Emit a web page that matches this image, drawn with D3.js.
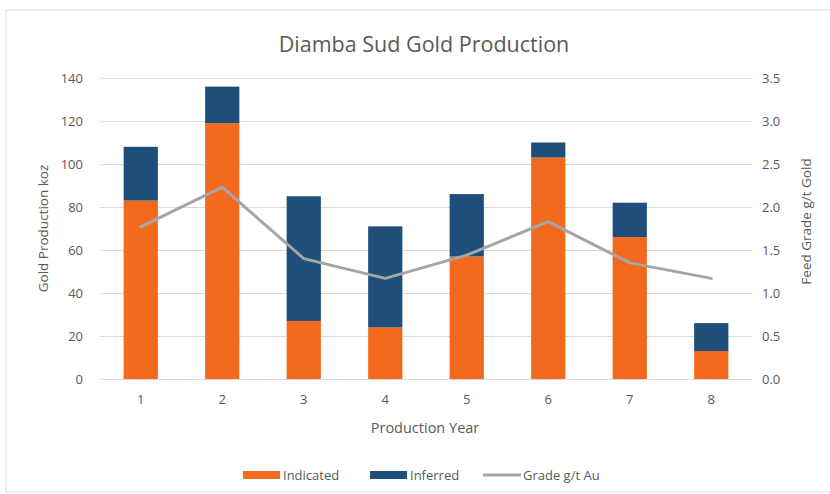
<!DOCTYPE html>
<html>
<head>
<meta charset="utf-8">
<script src="https://cdn.jsdelivr.net/npm/d3@7"></script>
<style>
  html, body { margin: 0; padding: 0; background: #fff; }
  svg { display: block; font-family: "Open Sans", "Noto Sans", sans-serif; }
</style>
</head>
<body>
<svg id="chart" width="830" height="494"></svg>
<script>
const years = ["1", "2", "3", "4", "5", "6", "7", "8"];
const indicated = [83, 119, 27, 24, 57, 103, 66, 13];
const inferred = [25, 17, 58, 47, 29, 7, 16, 13];
const grade = [1.77, 2.23, 1.40, 1.17, 1.44, 1.83, 1.35, 1.17];
const leftTicks = [0, 20, 40, 60, 80, 100, 120, 140];
const rightTicks = [0, 0.5, 1.0, 1.5, 2.0, 2.5, 3.0, 3.5];
const seriesNames = ["Indicated", "Inferred", "Grade g/t Au"];
const colors = { Indicated: "#F36A1F", Inferred: "#1F4E7A", grade: "#A5A5A5" };

const svg = d3.select("#chart");
const plot = { left: 100, right: 752, top: 78, bottom: 379 };

// frame
svg.append("rect").attr("x", 6).attr("y", 10).attr("width", 840).attr("height", 482)
  .attr("fill", "#fff").attr("stroke", "#d9d9d9").attr("stroke-width", 1);

const x = d3.scaleBand().domain(years).range([plot.left, plot.right]).paddingInner(0.58).paddingOuter(0.29);
const yL = d3.scaleLinear().domain([0, 140]).range([plot.bottom, plot.top]);
const yR = d3.scaleLinear().domain([0, 3.5]).range([plot.bottom, plot.top]);

// gridlines
svg.append("g").selectAll("line").data(leftTicks.filter(d => d > 0)).join("line")
  .attr("x1", plot.left).attr("x2", plot.right)
  .attr("y1", d => yL(d) + 0.5).attr("y2", d => yL(d) + 0.5)
  .attr("stroke", "#d9d9d9").attr("stroke-width", 1);

// stacked bars
const data = years.map((y, i) => ({ year: y, Indicated: indicated[i], Inferred: inferred[i] }));
const stack = d3.stack().keys(["Indicated", "Inferred"])(data);
svg.append("g").selectAll("g").data(stack).join("g")
  .attr("fill", d => colors[d.key])
  .selectAll("rect").data(d => d).join("rect")
  .attr("x", d => x(d.data.year))
  .attr("width", x.bandwidth())
  .attr("y", d => yL(d[1]))
  .attr("height", d => yL(d[0]) - yL(d[1]));

// baseline
svg.append("line").attr("x1", plot.left).attr("x2", plot.right)
  .attr("y1", plot.bottom + 0.5).attr("y2", plot.bottom + 0.5)
  .attr("stroke", "#d9d9d9").attr("stroke-width", 1);

// grade line
const line = d3.line().x((d, i) => x(years[i]) + x.bandwidth() / 2).y(d => yR(d));
svg.append("path").datum(grade).attr("d", line)
  .attr("fill", "none").attr("stroke", colors.grade).attr("stroke-width", 3)
  .attr("stroke-linejoin", "round").attr("stroke-linecap", "round");

const textColor = "#595959";
// left axis
const axL = d3.axisLeft(yL).tickValues(leftTicks).tickSize(0).tickPadding(17);
const gL = svg.append("g").attr("transform", `translate(${plot.left},0)`).call(axL);
gL.select(".domain").remove();
gL.selectAll("text").attr("fill", textColor).attr("font-size", 13).style("font-family", "Open Sans");

// right axis
const axR = d3.axisRight(yR).tickValues(rightTicks).tickFormat(d3.format(".1f")).tickSize(0).tickPadding(10);
const gR = svg.append("g").attr("transform", `translate(${plot.right},0)`).call(axR);
gR.select(".domain").remove();
gR.selectAll("text").attr("fill", textColor).attr("font-size", 13).style("font-family", "Open Sans");

// bottom axis
const axB = d3.axisBottom(x).tickSize(0).tickPadding(16);
const gB = svg.append("g").attr("transform", `translate(0,${plot.bottom})`).call(axB);
gB.select(".domain").remove();
gB.selectAll("text").attr("fill", textColor).attr("font-size", 13).style("font-family", "Open Sans");

// titles
svg.append("text").attr("x", 424).attr("y", 52).attr("text-anchor", "middle")
  .attr("fill", textColor).attr("font-size", 21.5).text("Diamba Sud Gold Production");

svg.append("text").attr("x", 425).attr("y", 433).attr("text-anchor", "middle")
  .attr("fill", textColor).attr("font-size", 14.5).text("Production Year");

svg.append("text").attr("transform", `translate(48,${(plot.top + plot.bottom) / 2}) rotate(-90)`)
  .attr("text-anchor", "middle").attr("fill", textColor).attr("font-size", 13.5).text("Gold Production koz");

svg.append("text").attr("transform", `translate(811,${(plot.top + plot.bottom) / 2 - 7}) rotate(-90)`)
  .attr("text-anchor", "middle").attr("fill", textColor).attr("font-size", 13.5).text("Feed Grade g/t Gold");

// legend
const legendItems = [
  { name: seriesNames[0], type: "rect", color: colors.Indicated, x: 243 },
  { name: seriesNames[1], type: "rect", color: colors.Inferred, x: 370 },
  { name: seriesNames[2], type: "line", color: colors.grade, x: 483 }
];
const lg = svg.append("g");
legendItems.forEach(it => {
  if (it.type === "rect") {
    lg.append("rect").attr("x", it.x).attr("y", 471).attr("width", 37).attr("height", 8).attr("fill", it.color);
  } else {
    lg.append("line").attr("x1", it.x).attr("x2", it.x + 38).attr("y1", 475).attr("y2", 475)
      .attr("stroke", it.color).attr("stroke-width", 3);
  }
  lg.append("text").attr("x", it.x + 40).attr("y", 479.5).attr("fill", textColor)
    .attr("font-size", 13).text(it.name);
});
</script>
</body>
</html>
